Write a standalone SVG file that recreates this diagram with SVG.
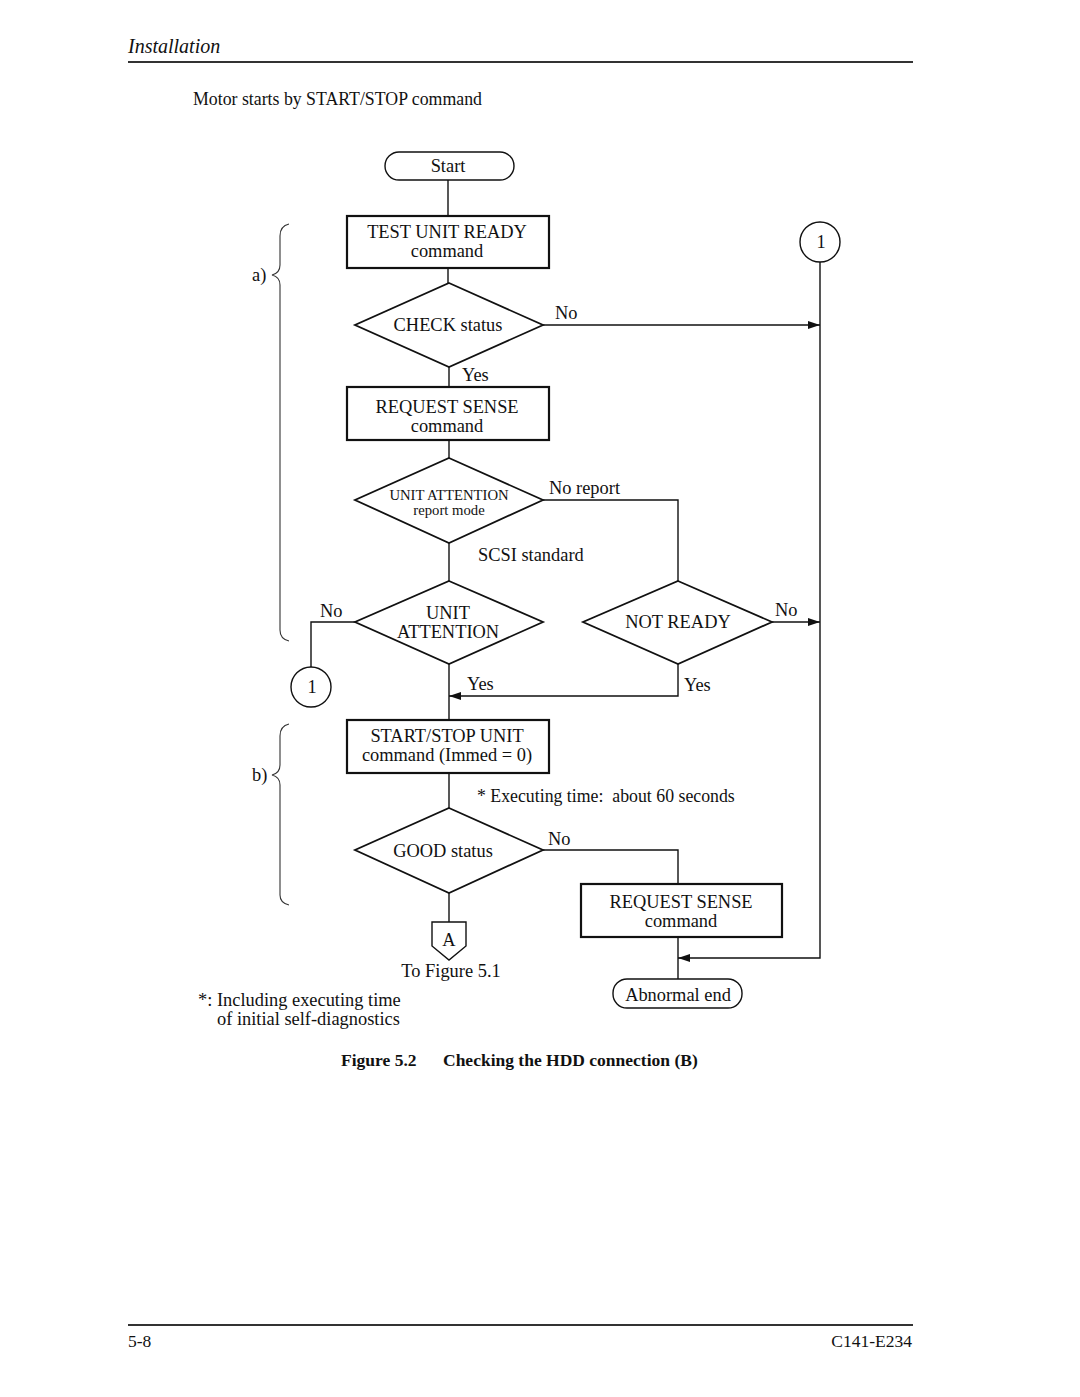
<svg xmlns="http://www.w3.org/2000/svg" width="1080" height="1397" viewBox="0 0 1080 1397">
<style>
text{font-family:"Liberation Serif","Times New Roman",serif;fill:#111}
.t{font-size:18.4px}
.c{text-anchor:middle}
.s{font-size:14.7px}
.box{fill:#fff;stroke:#111;stroke-width:2.2}
.dia{fill:#fff;stroke:#111;stroke-width:1.8}
.term{fill:#fff;stroke:#111;stroke-width:1.4}
.ln{fill:none;stroke:#111;stroke-width:1.4}
.br{fill:none;stroke:#333;stroke-width:1.1}
</style>
<defs>
<marker id="ah" markerWidth="12" markerHeight="8" refX="12" refY="4" orient="auto" markerUnits="userSpaceOnUse">
<path d="M0,0 L12,4 L0,8 Z" fill="#111"/>
</marker>
</defs>
<rect width="1080" height="1397" fill="#fff"/>

<text x="128" y="53" style="font-size:20px;font-style:italic">Installation</text>
<line x1="128" y1="62" x2="913" y2="62" stroke="#333" stroke-width="2"/>
<text x="193" y="105" style="font-size:17.8px">Motor starts by START/STOP command</text>

<g id="connectors">
<path class="ln" d="M448,180 V216"/>
<path class="ln" d="M448,268 V283"/>
<path class="ln" d="M543,325 H820" marker-end="url(#ah)"/>
<path class="ln" d="M449,367 V387"/>
<path class="ln" d="M449,440 V458"/>
<path class="ln" d="M543,500 H678 V581"/>
<path class="ln" d="M449,543 V581"/>
<path class="ln" d="M355,622 H311 V667"/>
<path class="ln" d="M772,622 H820" marker-end="url(#ah)"/>
<path class="ln" d="M678,664 V696 H449" marker-end="url(#ah)"/>
<path class="ln" d="M449,664 V720"/>
<path class="ln" d="M449,773 V808"/>
<path class="ln" d="M543,850 H678 V884"/>
<path class="ln" d="M449,893 V922"/>
<path class="ln" d="M678,937 V979"/>
<path class="ln" d="M820,262 V958 H678" marker-end="url(#ah)"/>
</g>

<g id="start"><rect class="term" x="385" y="152" width="129" height="28" rx="14"/><text class="t c" x="448" y="172">Start</text></g>
<g id="tur"><rect class="box" x="347" y="216" width="202" height="52"/><text class="t c" x="447" y="238">TEST UNIT READY</text><text class="t c" x="447" y="257">command</text></g>
<g id="check"><polygon class="dia" points="449,283 543,325 449,367 355,325"/><text class="t c" x="448" y="331">CHECK status</text></g>
<g id="rs1"><rect class="box" x="347" y="387" width="202" height="53"/><text class="t c" x="447" y="413">REQUEST SENSE</text><text class="t c" x="447" y="432">command</text></g>
<g id="uarm"><polygon class="dia" points="449,458 543,500 449,543 355,500"/><text class="s c" x="449" y="500">UNIT ATTENTION</text><text class="s c" x="449" y="515">report mode</text></g>
<g id="ua"><polygon class="dia" points="449,581 543,622 449,664 355,622"/><text class="t c" x="448" y="619">UNIT</text><text class="t c" x="448" y="638">ATTENTION</text></g>
<g id="nr"><polygon class="dia" points="678,581 772,622 678,664 583,622"/><text class="t c" x="678" y="628">NOT READY</text></g>
<g id="c1a"><circle class="term" cx="820" cy="242" r="20"/><text class="t c" x="821" y="248">1</text></g>
<g id="c1b"><circle class="term" cx="311" cy="687" r="20"/><text class="t c" x="312" y="693">1</text></g>
<g id="ssu"><rect class="box" x="347" y="720" width="202" height="53"/><text class="t c" x="447" y="742">START/STOP UNIT</text><text class="t c" x="447" y="761">command (Immed = 0)</text></g>
<g id="good"><polygon class="dia" points="449,808 543,850 449,893 355,850"/><text class="t c" x="443" y="857">GOOD status</text></g>
<g id="rs2"><rect class="box" x="581" y="884" width="201" height="53"/><text class="t c" x="681" y="908">REQUEST SENSE</text><text class="t c" x="681" y="927">command</text></g>
<g id="abend"><rect class="term" x="613" y="979" width="129" height="29" rx="14"/><text class="t c" x="678" y="1001">Abnormal end</text></g>
<g id="offA"><polygon class="term" points="432,922 466,922 466,946 449,960 432,946"/><text class="t c" x="449" y="946">A</text></g>

<g id="labels">
<text class="t" x="555" y="319">No</text>
<text class="t" x="462" y="381">Yes</text>
<text class="t" x="549" y="494">No report</text>
<text class="t" x="478" y="561">SCSI standard</text>
<text class="t" x="320" y="617">No</text>
<text class="t" x="775" y="616">No</text>
<text class="t" x="467" y="690">Yes</text>
<text class="t" x="684" y="691">Yes</text>
<text x="477" y="802" style="font-size:17.8px;white-space:pre">* Executing time:  about 60 seconds</text>
<text class="t" x="548" y="845">No</text>
<text class="t c" x="451" y="977">To Figure 5.1</text>
<text class="t" x="198" y="1006">*: Including executing time</text>
<text class="t" x="217" y="1025">of initial self-diagnostics</text>
<text class="t" x="252" y="281">a)</text>
<text class="t" x="252" y="781">b)</text>
</g>

<g id="braces">
<path class="br" d="M289,224 Q280,226 280,236 V265 Q280,273 272,275 Q280,277 280,285 V630 Q280,639 289,641"/>
<path class="br" d="M289,724 Q280,726 280,736 V765 Q280,773 272,775 Q280,777 280,785 V895 Q280,903 289,905"/>
</g>

<text x="341" y="1066" style="font-size:17.5px;font-weight:bold">Figure 5.2</text>
<text x="443" y="1066" style="font-size:17.5px;font-weight:bold">Checking the HDD connection (B)</text>

<line x1="128" y1="1325" x2="913" y2="1325" stroke="#333" stroke-width="2"/>
<text x="128" y="1347" style="font-size:17.5px">5-8</text>
<text x="912" y="1347" style="font-size:17.5px;text-anchor:end">C141-E234</text>
</svg>
